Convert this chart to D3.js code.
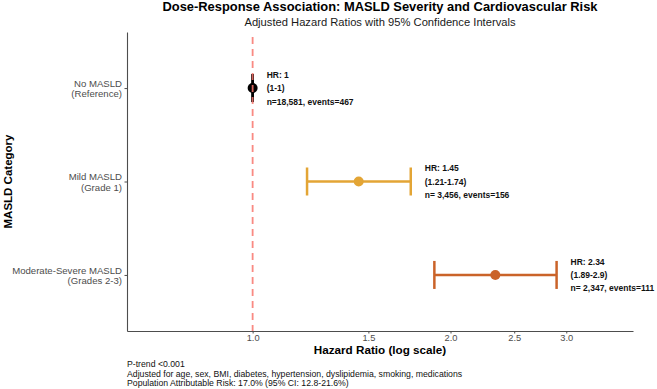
<!DOCTYPE html>
<html>
<head>
<meta charset="utf-8">
<script src="https://cdn.jsdelivr.net/npm/d3@7"></script>
<style>
  body { margin: 0; background: #fff; }
  svg { font-family: "Liberation Sans", Arial, Helvetica, sans-serif; }
</style>
</head>
<body>
<div id="chart"></div>
<script>
// data
const categories = ["No MASLD|(Reference)", "Mild MASLD|(Grade 1)", "Moderate-Severe MASLD|(Grades 2-3)"];
const hr = [1, 1.45, 2.34];
const ciLow = [1, 1.21, 1.89];
const ciHigh = [1, 1.74, 2.9];
const hrLabel = ["1", "1.45", "2.34"];
const ciLabel = ["(1-1)", "(1.21-1.74)", "(1.89-2.9)"];
const nLabel = ["n=18,581, events=467", "n= 3,456, events=156", "n= 2,347, events=111"];
const colors = ["#000000", "#E3A535", "#CA6329"];
const xTicks = [1.0, 1.5, 2.0, 2.5, 3.0];
const footnotes = [
    "P-trend <0.001",
    "Adjusted for age, sex, BMI, diabetes, hypertension, dyslipidemia, smoking, medications",
    "Population Attributable Risk: 17.0% (95% CI: 12.8-21.6%)"
];

const width = 657,
    height = 389,
    margin = { top: 32, right: 24, bottom: 58, left: 127 };

const svg = d3
    .select("#chart")
    .append("svg")
    .attr("width", width)
    .attr("height", height)
    .attr("viewBox", [0, 0, width, height]);

const x = d3
    .scaleLog()
    .domain([0.644, 3.79])
    .range([margin.left, width - margin.right]);

const y = d3
    .scalePoint()
    .domain(categories)
    .range([margin.top, height - margin.bottom])
    .padding(0.6);

const midX = (margin.left + width - margin.right) / 2;

// titles
svg.append("text")
    .attr("x", midX)
    .attr("y", 11)
    .attr("text-anchor", "middle")
    .attr("font-weight", "bold")
    .attr("font-size", 12.9)
    .text("Dose-Response Association: MASLD Severity and Cardiovascular Risk");
svg.append("text")
    .attr("x", midX)
    .attr("y", 26)
    .attr("text-anchor", "middle")
    .attr("font-size", 11.2)
    .attr("fill", "#1a1a1a")
    .text("Adjusted Hazard Ratios with 95% Confidence Intervals");

// axes
const xAxis = svg.append("g")
    .attr("transform", `translate(0,${height - margin.bottom})`)
    .call(d3.axisBottom(x).tickValues(xTicks).tickFormat(d3.format(".1f")).tickSize(2.5).tickSizeOuter(0));
xAxis.select(".domain").attr("stroke", "#4d4d4d").attr("stroke-width", 1.1);
xAxis.selectAll(".tick line").attr("stroke", "#4d4d4d");
xAxis.selectAll(".tick text")
    .attr("fill", "#4d4d4d")
    .attr("font-size", 9.3)
    .attr("font-family", "Liberation Sans, Arial, sans-serif")
    .attr("dy", "0.71em")
    .attr("y", 3.5);

const yAxis = svg.append("g")
    .attr("transform", `translate(${margin.left},0)`)
    .call(d3.axisLeft(y).tickSize(2.5).tickSizeOuter(0).tickFormat(""));
yAxis.select(".domain").attr("stroke", "#4d4d4d").attr("stroke-width", 1.1);
yAxis.selectAll(".tick line").attr("stroke", "#4d4d4d");

// category labels, two lines each
const yLab = svg.append("g")
    .selectAll("text")
    .data(categories)
    .join("text")
    .attr("x", margin.left - 5)
    .attr("y", (d) => y(d))
    .attr("text-anchor", "end")
    .attr("font-size", 9.6)
    .attr("fill", "#4d4d4d");
yLab.append("tspan")
    .attr("x", margin.left - 5)
    .attr("dy", "-0.14em")
    .text((d) => d.split("|")[0]);
yLab.append("tspan")
    .attr("x", margin.left - 5)
    .attr("dy", "1.08em")
    .text((d) => d.split("|")[1]);

svg.append("text")
    .attr("transform", `translate(12,${(margin.top + height - margin.bottom) / 2}) rotate(-90)`)
    .attr("text-anchor", "middle")
    .attr("font-weight", "bold")
    .attr("font-size", 11.5)
    .text("MASLD Category");

svg.append("text")
    .attr("x", midX)
    .attr("y", 354)
    .attr("text-anchor", "middle")
    .attr("font-weight", "bold")
    .attr("font-size", 11.7)
    .text("Hazard Ratio (log scale)");

// error bars and points
const rows = categories.map((c, i) => ({ c, i }));
const capH = 14;
const g = svg.append("g");
g.selectAll("line.ci")
    .data(rows)
    .join("line")
    .attr("x1", (d) => x(ciLow[d.i]))
    .attr("x2", (d) => x(ciHigh[d.i]))
    .attr("y1", (d) => y(d.c))
    .attr("y2", (d) => y(d.c))
    .attr("stroke", (d) => colors[d.i])
    .attr("stroke-width", 2.5);
g.selectAll("line.lo")
    .data(rows)
    .join("line")
    .attr("x1", (d) => x(ciLow[d.i]))
    .attr("x2", (d) => x(ciLow[d.i]))
    .attr("y1", (d) => y(d.c) - capH)
    .attr("y2", (d) => y(d.c) + capH)
    .attr("stroke", (d) => colors[d.i])
    .attr("stroke-width", 2.5);
g.selectAll("line.hi")
    .data(rows)
    .join("line")
    .attr("x1", (d) => x(ciHigh[d.i]))
    .attr("x2", (d) => x(ciHigh[d.i]))
    .attr("y1", (d) => y(d.c) - capH)
    .attr("y2", (d) => y(d.c) + capH)
    .attr("stroke", (d) => colors[d.i])
    .attr("stroke-width", 2.5);

// reference line at HR = 1
svg.append("line")
    .attr("x1", x(1))
    .attr("x2", x(1))
    .attr("y1", margin.top + 5)
    .attr("y2", height - margin.bottom)
    .attr("stroke", "#f8766d")
    .attr("stroke-opacity", 0.85)
    .attr("stroke-width", 1.8)
    .attr("stroke-dasharray", "7,5");

g.selectAll("circle")
    .data(rows)
    .join("circle")
    .attr("cx", (d) => x(hr[d.i]))
    .attr("cy", (d) => y(d.c))
    .attr("r", 5)
    .attr("fill", (d) => colors[d.i]);

// annotations
const lab = svg.append("g")
    .selectAll("text")
    .data(rows)
    .join("text")
    .attr("font-size", 8.5)
    .attr("font-weight", "bold")
    .attr("fill", "#111");
[
    (d) => "HR: " + hrLabel[d.i],
    (d) => ciLabel[d.i],
    (d) => nLabel[d.i]
].forEach((f, k) => {
    lab.append("tspan")
        .attr("x", (d) => x(ciHigh[d.i]) + 14)
        .attr("y", (d) => y(d.c) + 3.1 + (k - 1) * 13.4)
        .text(f);
});

// footnotes
svg.append("g")
    .selectAll("text")
    .data(footnotes)
    .join("text")
    .attr("x", margin.left)
    .attr("y", (d, i) => 367.3 + i * 9.3)
    .attr("font-size", 8.7)
    .attr("fill", "#111")
    .text((d) => d);
</script>
</body>
</html>
